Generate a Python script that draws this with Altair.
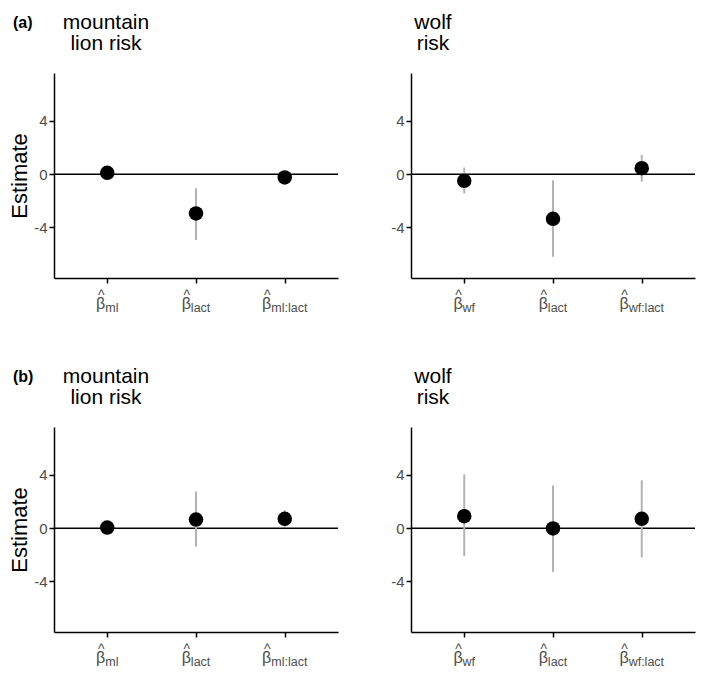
import altair as alt
import pandas as pd

FONT = "Liberation Sans"
LABEL_COLOR = "#4d4d4d"
BAR_COLOR = "#b3b3b3"

# ---- data ----
panel_letters = ["(a)", "(b)"]
ml_title = "mountain\nlion risk"
wf_title = "wolf\nrisk"

ml_terms = ["ml", "lact", "ml:lact"]
wf_terms = ["wf", "lact", "wf:lact"]

# (a) mountain lion risk
a_ml_est = [0.10, -2.95, -0.25]
a_ml_lo = [-0.35, -4.95, -0.65]
a_ml_hi = [0.50, -1.05, 0.15]
# (a) wolf risk
a_wf_est = [-0.50, -3.35, 0.45]
a_wf_lo = [-1.45, -6.20, -0.55]
a_wf_hi = [0.50, -0.45, 1.45]
# (b) mountain lion risk
b_ml_est = [0.05, 0.65, 0.70]
b_ml_lo = [-0.35, -1.40, 0.10]
b_ml_hi = [0.45, 2.75, 1.35]
# (b) wolf risk
b_wf_est = [0.90, -0.02, 0.70]
b_wf_lo = [-2.10, -3.30, -2.20]
b_wf_hi = [4.05, 3.20, 3.60]

y_domain = [-7.8, 7.6]
y_ticks = [-4, 0, 4]
zero_line = [0]

# ---- styling helpers ----
W = 284
H = 205
BETA_SIZE = 16
SUB_SIZE = 12.5
BETA_W = 0.574 * BETA_SIZE
CHAR_W = {"m": .833, "l": .222, ":": .278, "a": .556, "c": .5, "t": .278,
          "w": .722, "f": .278}


def panel(terms, est, lo, hi, title_text, title_x, letter=None, ytitle=False):
    df = pd.DataFrame({"term": terms, "est": est, "lo": lo, "hi": hi})
    x = alt.X("term:N", sort=terms,
              scale=alt.Scale(type="point", padding=0.6),
              axis=alt.Axis(labels=False, title=None))
    yscale = alt.Scale(domain=y_domain, nice=False, zero=False)
    yaxis = alt.Axis(values=y_ticks,
                     title="Estimate" if ytitle else None,
                     labelExpr="datum.value < 0 ? '-' + (-datum.value) : '' + datum.value")
    base = alt.Chart(df)

    zero = alt.Chart(pd.DataFrame({"zero": zero_line})).mark_rule(
        color="black", strokeWidth=1.5
    ).encode(y=alt.Y("zero:Q", scale=yscale, axis=yaxis))

    bars = base.mark_rule(color=BAR_COLOR, strokeWidth=2).encode(
        x=x, y=alt.Y("lo:Q", scale=yscale, axis=yaxis), y2="hi:Q")

    pts = base.mark_circle(size=210, color="black", opacity=1).encode(
        x=x, y=alt.Y("est:Q", scale=yscale, axis=yaxis))

    layers = [zero, bars, pts]

    for t in terms:
        w = sum(CHAR_W[c] for c in t) * SUB_SIZE
        sel = base.transform_filter(alt.datum.term == t)
        hat = sel.mark_text(text="^", fontSize=14, align="center",
                            baseline="alphabetic", dx=-w / 2 + 0.5,
                            color=LABEL_COLOR, font=FONT).encode(
            x=x, y=alt.value(H + 21.5))
        beta = sel.mark_text(text="β", fontSize=BETA_SIZE, align="center",
                             baseline="alphabetic", dx=-w / 2,
                             color=LABEL_COLOR, font=FONT).encode(
            x=x, y=alt.value(H + 31))
        sub = sel.mark_text(fontSize=SUB_SIZE, align="left",
                            baseline="alphabetic", dx=(BETA_W - w) / 2,
                            color=LABEL_COLOR, font=FONT).encode(
            x=x, y=alt.value(H + 33.7), text="term:N")
        layers += [hat, beta, sub]

    ttl = alt.Chart(pd.DataFrame({"title": [title_text]})).mark_text(
        fontSize=21, align="center", baseline="top", lineBreak="\n",
        lineHeight=21, color="black", font=FONT
    ).encode(text="title:N", x=alt.value(title_x), y=alt.value(-61))
    layers.append(ttl)

    if letter is not None:
        lab = alt.Chart(pd.DataFrame({"letter": [letter]})).mark_text(
            fontWeight="bold", fontSize=16, align="left", baseline="alphabetic",
            color="black", font=FONT
        ).encode(text="letter:N", x=alt.value(-41), y=alt.value(-45))
        layers.append(lab)

    return alt.layer(*layers).properties(width=W, height=H)


pa_ml = panel(ml_terms, a_ml_est, a_ml_lo, a_ml_hi, ml_title, 52, panel_letters[0], True)
pa_wf = panel(wf_terms, a_wf_est, a_wf_lo, a_wf_hi, wf_title, 22)
pb_ml = panel(ml_terms, b_ml_est, b_ml_lo, b_ml_hi, ml_title, 52, panel_letters[1], True)
pb_wf = panel(wf_terms, b_wf_est, b_wf_lo, b_wf_hi, wf_title, 22)

row_a = alt.hconcat(pa_ml, pa_wf, spacing=51)
row_b = alt.hconcat(pb_ml, pb_wf, spacing=51)

chart = alt.vconcat(row_a, row_b, spacing=51).properties(
    padding={"top": 4, "left": 0, "right": 0, "bottom": 0}
).configure(font=FONT).configure_view(stroke=None).configure_axis(
    grid=False,
    domainColor="black", domainWidth=1.5,
    tickColor="black", tickWidth=1.5, tickSize=5,
    labelColor=LABEL_COLOR, labelFontSize=15, labelPadding=2, labelFont=FONT,
    titleFontSize=22, titleFontWeight="normal", titleColor="black",
    titlePadding=2, titleFont=FONT,
)

chart.save("out.html", embed_options={"renderer": "svg", "actions": False})
